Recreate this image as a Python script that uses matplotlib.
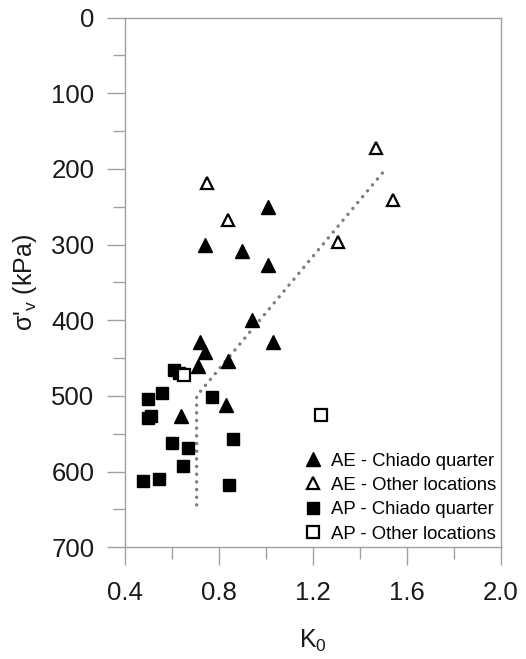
import matplotlib.pyplot as plt
from matplotlib.ticker import MultipleLocator

plt.rcParams['font.family'] = ['Liberation Sans', 'DejaVu Sans']
plt.rcParams['mathtext.fontset'] = 'custom'
plt.rcParams['mathtext.rm'] = 'Liberation Sans'
plt.rcParams['mathtext.it'] = 'Liberation Sans:italic'

# AE - Chiado quarter
ae_chiado_k0 = [1.01, 0.74, 0.90, 1.01, 0.94, 0.72, 1.03, 0.74, 0.84, 0.71, 0.83, 0.64]
ae_chiado_sv = [251, 301, 308, 327, 400, 429, 429, 442, 454, 461, 512, 527]

# AE - Other locations
ae_other_k0 = [1.47, 0.75, 0.84, 1.54, 1.305]
ae_other_sv = [172, 218, 268, 241, 296]

# AP - Chiado quarter
ap_chiado_k0 = [0.61, 0.63, 0.556, 0.50, 0.77, 0.512, 0.50, 0.60, 0.67, 0.86, 0.645, 0.475, 0.546, 0.844]
ap_chiado_sv = [466, 470, 496, 504, 502, 526, 529, 562, 569, 557, 592, 612, 610, 618]

# AP - Other locations
ap_other_k0 = [0.65, 1.233]
ap_other_sv = [472, 525]

# trend line
trend_k0 = [0.705, 0.705, 1.51]
trend_sv = [644, 500, 200]

fig = plt.figure(figsize=(5.26, 6.59), dpi=100)
ax = fig.add_axes([0.2376, 0.1695, 0.7148, 0.8039])

ax.plot(trend_k0, trend_sv, color='#7f7f7f', lw=2.5, linestyle=(0, (0.01, 2.2)),
        dash_capstyle='round', zorder=1)

ax.plot(ae_chiado_k0, ae_chiado_sv, '^', color='black', ms=10, ls='none',
        label='AE - Chiado quarter', zorder=3)
ax.plot(ae_other_k0, ae_other_sv, '^', mfc='white', mec='black', mew=1.6, ms=9,
        ls='none', label='AE - Other locations', zorder=3)
ax.plot(ap_chiado_k0, ap_chiado_sv, 's', color='black', ms=9, ls='none',
        label='AP - Chiado quarter', zorder=3)
ax.plot(ap_other_k0, ap_other_sv, 's', mfc='white', mec='black', mew=1.6, ms=8.5,
        ls='none', label='AP - Other locations', zorder=3)

ax.set_xlim(0.4, 2.0)
ax.set_ylim(700, 0)
ax.xaxis.set_minor_locator(MultipleLocator(0.2))
ax.yaxis.set_major_locator(MultipleLocator(100))
ax.yaxis.set_minor_locator(MultipleLocator(50))
ax.set_xticks([0.4, 0.8, 1.2, 1.6, 2.0])
ax.set_xticklabels(['0.4', '0.8', '1.2', '1.6', '2.0'])

grey = '#a0a0a0'
for s in ax.spines.values():
    s.set_color(grey)
    s.set_linewidth(1.0)
ax.tick_params(which='major', length=13, width=1, color=grey, labelsize=18.5,
               labelcolor='#1a1a1a')
ax.tick_params(which='minor', length=8.5, width=1, color=grey)
ax.tick_params(axis='x', which='major', pad=11)
ax.tick_params(axis='y', which='major', pad=9)

ax.set_xlabel('K$_\\mathregular{0}$', fontsize=18, color='#1a1a1a', labelpad=17)
ax.set_ylabel('σ$\\mathregular{\'_{v}}$ (kPa)', fontsize=18, color='#1a1a1a', labelpad=9)

ax.legend(loc='lower right', frameon=False, fontsize=13.3, handlelength=0.8,
          handletextpad=0.6, labelspacing=0.4, borderaxespad=0.0, borderpad=0.25)

fig.savefig('out.png', dpi=100)
